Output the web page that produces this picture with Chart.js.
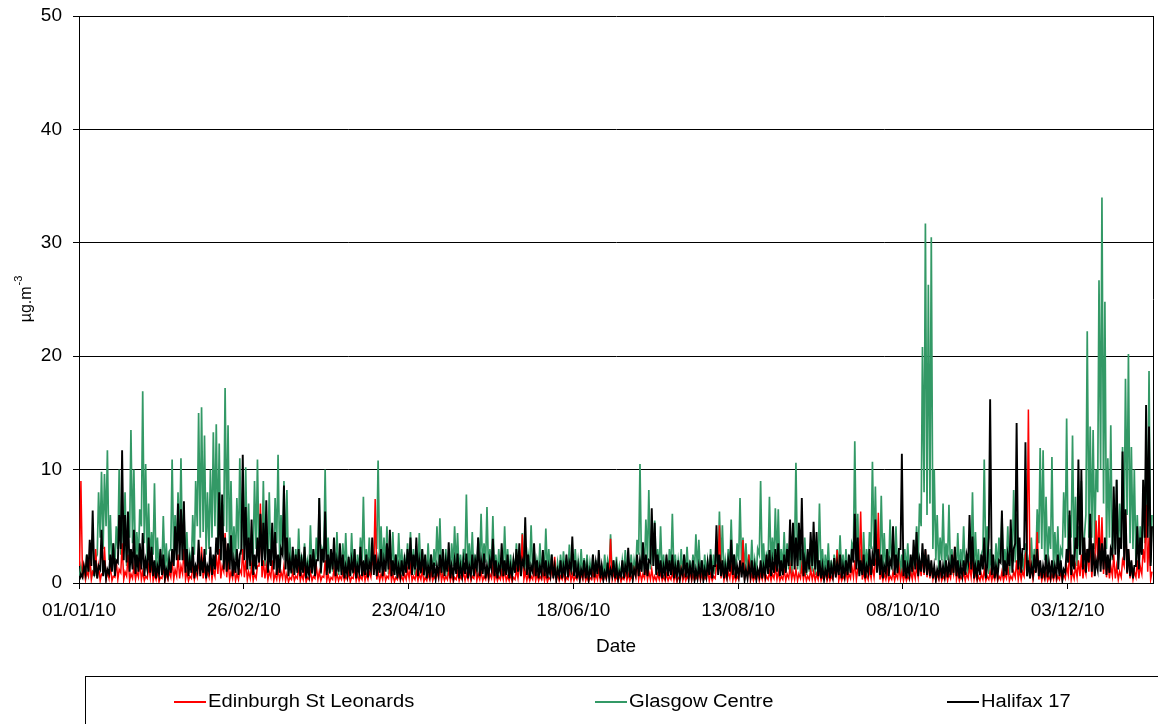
<!DOCTYPE html>
<html>
<head>
<meta charset="utf-8">
<title>Edinburgh / Glasgow / Halifax 2010</title>
<script src="https://cdn.jsdelivr.net/npm/chart.js@4.4.0/dist/chart.umd.min.js"></script>
<style>
    html, body { margin: 0; padding: 0; background: #fff; }
    #wrap { position: relative; width: 1158px; height: 724px; overflow: hidden; font-family: "Liberation Sans", Arial, sans-serif; }
    #legend { position: absolute; left: 85px; top: 676px; width: 1100px; height: 80px; border: 1px solid #000; box-sizing: border-box; }
    .swatch { position: absolute; top: 24px; width: 32px; height: 2px; }
    .label { position: absolute; top: 13px; font-size: 18px; line-height: 22px; color: #000; white-space: nowrap; transform: scaleX(1.12); transform-origin: left center; }
</style>
</head>
<body>
<div id="wrap">
    <canvas id="chart" width="1158" height="724"></canvas>
    <div id="legend"></div>
</div>
<script>
// 1. 資料：2010 年每日數值 (µg.m-3)，第 0 天 = 01/01/10
//    每天兩個讀值：當日低點 (Low) 與當日高點
const seriesNames = ['Edinburgh St Leonards', 'Glasgow Centre', 'Halifax 17'];

const tickDays = [0, 56, 112, 168, 224, 280, 336];
const tickLabels = ['01/01/10', '26/02/10', '23/04/10', '18/06/10', '13/08/10', '08/10/10', '03/12/10'];

const edinburgh = [
    9.0, 1.5, 1.0, 2.5, 1.0, 3.0, 1.5, 0.8, 3.2, 1.0,
    1.5, 0.6, 2.0, 1.2, 3.5, 1.0, 2.5, 0.8, 1.5, 1.0,
    2.0, 1.0, 0.6, 1.5, 2.0, 0.8, 1.2, 0.5, 1.5, 0.8,
    1.0, 2.0, 1.2, 2.5, 1.5, 3.0, 1.0, 0.6, 1.5, 1.0,
    2.0, 3.2, 1.5, 1.0, 2.0, 1.2, 2.5, 3.0, 1.5, 4.4,
    2.0, 1.0, 1.5, 0.8, 1.2, 3.0, 2.0, 1.0, 1.5, 0.8,
    1.5, 7.0, 2.0, 1.5, 1.0, 2.0, 0.8, 1.2, 1.0, 1.5,
    0.8, 0.5, 1.0, 0.6, 1.5, 0.8, 1.2, 0.5, 1.0, 0.6,
    1.5, 1.0, 0.6, 2.0, 0.8, 0.5, 1.2, 0.8, 0.6, 1.0,
    0.6, 1.0, 0.5, 1.5, 0.8, 0.6, 1.2, 0.8, 1.0, 2.0,
    7.4, 1.0, 0.8, 1.2, 0.6, 1.5, 0.8, 0.5, 1.0, 0.6,
    0.8, 1.2, 1.5, 0.6, 1.0, 0.8, 1.2, 0.5, 0.8, 1.0,
    0.6, 1.0, 1.5, 0.8, 0.6, 1.2, 0.8, 0.5, 1.0, 0.6,
    1.0, 0.8, 1.2, 0.6, 1.5, 0.8, 1.0, 0.6, 1.2, 0.8,
    1.5, 0.8, 0.6, 1.0, 1.2, 0.6, 0.8, 0.5, 1.2, 1.5,
    4.3, 1.0, 0.8, 0.6, 1.2, 0.8, 0.6, 1.0, 0.8, 0.5,
    1.2, 2.3, 0.8, 0.6, 1.0, 0.5, 1.2, 0.8, 0.6, 1.0,
    0.8, 1.2, 0.6, 0.5, 1.0, 0.8, 1.2, 0.6, 0.8, 1.0,
    3.9, 1.0, 0.6, 0.8, 0.5, 1.0, 0.8, 0.6, 1.2, 2.0,
    1.0, 0.8, 1.5, 1.0, 1.2, 0.6, 0.8, 1.0, 0.6, 0.8,
    0.6, 1.0, 0.8, 0.5, 1.2, 0.8, 0.6, 1.0, 0.8, 0.6,
    1.0, 0.8, 0.6, 1.2, 0.8, 0.6, 1.5, 5.1, 1.5, 0.8,
    1.0, 1.5, 0.8, 0.6, 1.2, 3.8, 1.0, 2.5, 0.8, 0.6,
    1.0, 0.8, 1.2, 0.6, 1.0, 0.8, 1.5, 1.0, 0.6, 1.2,
    0.8, 1.5, 1.0, 1.2, 0.8, 1.5, 1.0, 0.6, 1.2, 1.0,
    0.8, 1.2, 0.6, 1.0, 0.8, 0.6, 1.2, 2.9, 0.8, 0.6,
    1.0, 0.8, 1.5, 2.0, 1.2, 6.3, 1.0, 0.8, 1.2, 1.5,
    2.0, 6.2, 1.0, 0.8, 1.2, 0.6, 1.0, 0.8, 1.5, 1.0,
    0.8, 0.6, 1.0, 1.2, 1.5, 2.0, 2.5, 2.9, 2.0, 1.5,
    1.0, 0.8, 1.2, 0.6, 1.0, 0.8, 1.5, 3.2, 1.0, 0.6,
    1.0, 0.8, 1.5, 2.0, 1.0, 0.6, 0.8, 1.2, 0.6, 1.0,
    0.8, 1.2, 0.6, 1.0, 0.8, 1.5, 0.6, 1.0, 2.0, 1.2,
    1.0, 2.5, 15.3, 1.5, 1.0, 4.5, 1.2, 0.8, 1.0, 0.6,
    0.8, 1.2, 0.6, 1.0, 0.8, 1.5, 2.9, 1.0, 1.5, 2.0,
    2.5, 1.5, 3.0, 4.0, 2.0, 5.5, 6.0, 5.8, 3.0, 2.0,
    1.5, 2.5, 1.5, 1.0, 2.0, 6.1, 3.0, 1.5, 1.0, 2.0,
    1.5, 3.0, 6.9, 4.0, 1.0
];
const edinburghLow = [
    1.5, 0.4, 0.3, 0.6, 0.3, 0.8, 0.4, 0.2, 0.8, 0.3,
    0.4, 0.2, 0.5, 0.3, 0.9, 0.3, 0.6, 0.2, 0.4, 0.3,
    0.5, 0.3, 0.2, 0.4, 0.5, 0.2, 0.3, 0.1, 0.4, 0.2,
    0.3, 0.5, 0.3, 0.6, 0.4, 0.8, 0.3, 0.2, 0.4, 0.3,
    0.5, 0.8, 0.4, 0.3, 0.5, 0.3, 0.6, 0.8, 0.4, 1.0,
    0.5, 0.3, 0.4, 0.2, 0.3, 0.8, 0.5, 0.3, 0.4, 0.2,
    0.4, 1.5, 0.5, 0.4, 0.3, 0.5, 0.2, 0.3, 0.3, 0.4,
    0.2, 0.1, 0.3, 0.2, 0.4, 0.2, 0.3, 0.1, 0.3, 0.2,
    0.4, 0.3, 0.2, 0.5, 0.2, 0.1, 0.3, 0.2, 0.2, 0.3,
    0.2, 0.3, 0.1, 0.4, 0.2, 0.2, 0.3, 0.2, 0.3, 0.5,
    1.5, 0.3, 0.2, 0.3, 0.2, 0.4, 0.2, 0.1, 0.3, 0.2,
    0.2, 0.3, 0.4, 0.2, 0.3, 0.2, 0.3, 0.1, 0.2, 0.3,
    0.2, 0.3, 0.4, 0.2, 0.2, 0.3, 0.2, 0.1, 0.3, 0.2,
    0.3, 0.2, 0.3, 0.2, 0.4, 0.2, 0.3, 0.2, 0.3, 0.2,
    0.4, 0.2, 0.2, 0.3, 0.3, 0.2, 0.2, 0.1, 0.3, 0.4,
    1.0, 0.3, 0.2, 0.2, 0.3, 0.2, 0.2, 0.3, 0.2, 0.1,
    0.3, 0.6, 0.2, 0.2, 0.3, 0.1, 0.3, 0.2, 0.2, 0.3,
    0.2, 0.3, 0.2, 0.1, 0.3, 0.2, 0.3, 0.2, 0.2, 0.3,
    0.8, 0.3, 0.2, 0.2, 0.1, 0.3, 0.2, 0.2, 0.3, 0.5,
    0.3, 0.2, 0.4, 0.3, 0.3, 0.2, 0.2, 0.3, 0.2, 0.2,
    0.2, 0.3, 0.2, 0.1, 0.3, 0.2, 0.2, 0.3, 0.2, 0.2,
    0.3, 0.2, 0.2, 0.3, 0.2, 0.2, 0.4, 1.2, 0.4, 0.2,
    0.3, 0.4, 0.2, 0.2, 0.3, 1.0, 0.3, 0.6, 0.2, 0.2,
    0.3, 0.2, 0.3, 0.2, 0.3, 0.2, 0.4, 0.3, 0.2, 0.3,
    0.2, 0.4, 0.3, 0.3, 0.2, 0.4, 0.3, 0.2, 0.3, 0.3,
    0.2, 0.3, 0.2, 0.3, 0.2, 0.2, 0.3, 0.7, 0.2, 0.2,
    0.3, 0.2, 0.4, 0.5, 0.3, 1.5, 0.3, 0.2, 0.3, 0.4,
    0.5, 1.5, 0.3, 0.2, 0.3, 0.2, 0.3, 0.2, 0.4, 0.3,
    0.2, 0.2, 0.3, 0.3, 0.4, 0.5, 0.6, 0.7, 0.5, 0.4,
    0.3, 0.2, 0.3, 0.2, 0.3, 0.2, 0.4, 0.8, 0.3, 0.2,
    0.3, 0.2, 0.4, 0.5, 0.3, 0.2, 0.2, 0.3, 0.2, 0.3,
    0.2, 0.3, 0.2, 0.3, 0.2, 0.4, 0.2, 0.3, 0.5, 0.3,
    0.3, 0.6, 3.0, 0.4, 0.3, 1.2, 0.3, 0.2, 0.3, 0.2,
    0.2, 0.3, 0.2, 0.3, 0.2, 0.4, 0.7, 0.3, 0.4, 0.5,
    0.6, 0.4, 0.8, 1.0, 0.5, 1.5, 2.0, 1.5, 0.8, 0.5,
    0.4, 0.6, 0.4, 0.3, 0.5, 1.5, 0.8, 0.4, 0.3, 0.5,
    0.4, 0.8, 1.8, 1.0, 0.3
];

const glasgow = [
    1.5, 1.2, 2.5, 1.8, 1.0, 2.2, 8.0, 9.8, 9.6, 11.7,
    6.0, 3.5, 5.0, 10.0, 6.5, 8.0, 5.0, 13.5, 10.0, 4.5,
    6.5, 16.9, 10.5, 7.0, 4.5, 8.8, 4.0, 2.5, 5.9, 3.5,
    2.8, 10.9, 6.0, 8.0, 11.0, 6.5, 4.5, 2.5, 6.0, 9.0,
    15.0, 15.5, 13.0, 8.0, 10.0, 13.3, 14.0, 12.3, 7.0, 17.2,
    13.9, 9.0, 5.0, 7.5, 11.0, 8.0, 10.2, 7.0, 4.0, 9.0,
    10.9, 6.0, 9.0, 5.0, 8.0, 4.5, 7.5, 11.3, 6.0, 9.0,
    8.2, 4.0, 2.5, 3.0, 4.8, 2.5, 3.5, 2.0, 5.1, 3.0,
    4.0, 7.5, 3.0, 10.0, 4.0, 2.5, 3.0, 4.5, 2.5, 3.5,
    4.4, 2.0, 4.4, 3.0, 2.5, 4.0, 7.6, 3.0, 4.0, 2.5,
    5.0, 10.8, 5.0, 4.0, 5.0, 3.0, 4.5, 2.5, 4.4, 3.0,
    2.5, 3.5, 4.5, 3.0, 2.5, 4.4, 3.0, 2.0, 3.5, 2.5,
    3.0, 5.0, 5.7, 2.5, 3.0, 2.0, 3.5, 5.0, 4.4, 2.5,
    3.0, 7.8, 3.5, 4.5, 2.5, 4.0, 6.1, 3.5, 6.7, 3.0,
    5.9, 2.5, 3.0, 2.0, 5.0, 3.0, 2.5, 2.0, 3.5, 2.5,
    4.4, 3.0, 2.5, 5.1, 3.0, 2.0, 3.5, 2.5, 4.8, 3.0,
    2.5, 2.0, 1.8, 2.5, 2.8, 2.0, 3.4, 2.5, 3.0, 2.0,
    3.0, 2.2, 2.5, 1.8, 2.5, 2.0, 2.2, 1.5, 2.5, 2.0,
    4.3, 2.0, 2.3, 1.5, 2.0, 2.9, 1.8, 2.5, 2.0, 3.8,
    10.5, 3.5, 5.6, 8.2, 4.0, 5.5, 3.0, 5.0, 2.5, 2.0,
    3.0, 6.1, 2.5, 2.0, 3.0, 2.5, 3.2, 2.0, 2.5, 4.3,
    3.8, 2.0, 2.5, 2.0, 3.0, 2.5, 3.0, 6.3, 5.1, 2.0,
    3.0, 5.6, 2.5, 3.5, 7.5, 4.0, 3.5, 2.5, 3.8, 2.0,
    3.0, 9.0, 3.5, 2.5, 7.6, 4.0, 6.6, 6.5, 3.0, 4.5,
    3.5, 4.2, 3.0, 10.6, 4.5, 3.0, 4.0, 2.5, 3.5, 3.8,
    2.5, 7.0, 3.0, 2.5, 3.5, 2.0, 2.5, 3.0, 4.2, 2.5,
    3.0, 2.0, 3.5, 12.5, 6.1, 3.0, 4.5, 3.0, 4.5, 10.7,
    8.5, 4.0, 7.7, 4.4, 3.0, 5.6, 4.0, 5.0, 3.0, 2.5,
    3.0, 3.5, 2.0, 2.5, 5.0, 7.0, 20.8, 31.7, 26.3, 30.5,
    10.0, 6.0, 4.0, 7.0, 3.5, 6.9, 3.0, 2.5, 4.4, 3.0,
    5.0, 2.5, 3.0, 8.0, 4.5, 3.0, 2.5, 10.9, 5.0, 3.0,
    2.0, 3.5, 4.0, 6.1, 3.0, 5.0, 2.5, 8.2, 6.1, 3.0,
    2.5, 3.5, 2.0, 4.0, 3.0, 6.5, 11.9, 11.7, 7.6, 5.0,
    11.1, 4.5, 5.0, 3.0, 8.0, 14.5, 6.0, 13.0, 7.6, 5.0,
    9.0, 4.0, 22.2, 13.8, 13.5, 10.0, 26.7, 34.0, 24.8, 11.0,
    13.9, 6.5, 9.1, 7.0, 12.0, 18.0, 20.2, 12.0, 10.0, 6.0,
    5.0, 8.0, 12.0, 18.7, 6.0
];
const glasgowLow = [
    0.6, 0.8, 0.5, 0.9, 0.6, 0.7, 2.5, 4.0, 3.0, 5.0,
    2.0, 1.2, 1.5, 3.0, 2.5, 3.0, 1.5, 4.0, 3.5, 1.5,
    2.0, 5.0, 3.5, 2.0, 1.5, 2.5, 1.2, 0.8, 1.5, 1.0,
    0.8, 3.0, 2.0, 2.5, 3.5, 2.0, 1.5, 0.8, 1.5, 2.5,
    5.0, 4.0, 4.5, 2.5, 3.0, 4.0, 5.0, 3.5, 2.0, 5.0,
    4.5, 2.5, 1.5, 2.0, 3.0, 2.5, 3.0, 2.0, 1.2, 2.5,
    3.0, 2.0, 2.5, 1.5, 2.0, 1.5, 2.0, 3.5, 2.0, 2.5,
    2.0, 1.2, 0.8, 1.0, 1.2, 0.8, 1.0, 0.6, 1.2, 0.8,
    1.0, 2.0, 0.8, 2.5, 1.2, 0.8, 1.0, 1.2, 0.7, 1.0,
    1.2, 0.6, 1.2, 0.8, 0.7, 1.0, 2.0, 0.8, 1.2, 0.7,
    1.5, 3.0, 1.5, 1.2, 1.5, 0.8, 1.2, 0.7, 1.2, 0.8,
    0.7, 1.0, 1.2, 0.8, 0.7, 1.2, 0.8, 0.6, 1.0, 0.7,
    0.8, 1.5, 1.5, 0.7, 0.8, 0.6, 1.0, 1.5, 1.2, 0.7,
    0.8, 2.0, 1.0, 1.2, 0.7, 1.0, 1.8, 1.0, 1.8, 0.8,
    1.5, 0.7, 0.8, 0.6, 1.2, 0.8, 0.7, 0.6, 1.0, 0.7,
    1.2, 0.8, 0.7, 1.5, 0.8, 0.6, 1.0, 0.7, 1.2, 0.8,
    0.7, 0.6, 0.5, 0.7, 0.8, 0.6, 1.0, 0.7, 0.8, 0.6,
    0.8, 0.6, 0.7, 0.5, 0.7, 0.6, 0.6, 0.5, 0.7, 0.6,
    1.2, 0.6, 0.7, 0.5, 0.6, 0.8, 0.5, 0.7, 0.6, 1.0,
    2.5, 1.0, 1.5, 2.0, 1.2, 1.5, 0.8, 1.2, 0.7, 0.6,
    0.8, 1.5, 0.7, 0.6, 0.8, 0.7, 0.9, 0.6, 0.7, 1.2,
    1.0, 0.6, 0.7, 0.6, 0.8, 0.7, 0.8, 1.5, 1.5, 0.6,
    0.8, 1.5, 0.7, 1.0, 2.0, 1.2, 1.0, 0.7, 1.0, 0.6,
    0.8, 2.5, 1.0, 0.7, 2.0, 1.2, 2.0, 1.8, 0.8, 1.2,
    1.0, 1.2, 0.8, 3.0, 1.2, 0.8, 1.2, 0.7, 1.0, 1.0,
    0.7, 2.0, 0.8, 0.7, 1.0, 0.6, 0.7, 0.8, 1.2, 0.7,
    0.8, 0.6, 1.0, 3.0, 2.0, 0.8, 1.2, 0.8, 1.2, 3.0,
    2.5, 1.2, 2.0, 1.2, 0.8, 1.5, 1.2, 1.5, 0.8, 0.7,
    0.8, 1.0, 0.6, 0.7, 1.5, 2.0, 5.0, 8.0, 6.0, 7.0,
    3.0, 2.0, 1.2, 2.0, 1.0, 2.0, 0.8, 0.7, 1.2, 0.8,
    1.5, 0.7, 0.8, 2.0, 1.2, 0.8, 0.7, 3.0, 1.5, 0.8,
    0.6, 1.0, 1.2, 1.8, 0.8, 1.5, 0.7, 2.5, 1.8, 0.8,
    0.7, 1.0, 0.6, 1.2, 0.8, 2.0, 3.5, 3.0, 2.0, 1.5,
    3.0, 1.2, 1.5, 0.8, 2.5, 4.0, 1.8, 4.0, 2.0, 1.5,
    2.5, 1.2, 6.0, 4.0, 4.0, 3.0, 8.0, 10.0, 7.0, 3.0,
    4.0, 2.0, 3.0, 2.0, 3.5, 5.0, 6.0, 3.5, 3.0, 1.8,
    1.5, 2.5, 3.5, 5.0, 1.8
];

const halifax = [
    0.8, 1.5, 2.5, 3.8, 6.4, 2.0, 1.5, 4.7, 2.0, 1.2,
    2.5, 3.5, 2.0, 6.0, 11.7, 6.0, 6.3, 3.0, 4.7, 2.5,
    3.5, 4.4, 2.0, 4.0, 3.2, 2.0, 1.5, 3.0, 2.5, 1.2,
    2.0, 3.0, 5.0, 7.0, 6.5, 7.2, 3.0, 2.0, 3.2, 1.5,
    3.8, 2.0, 3.0, 1.5, 3.2, 2.5, 4.0, 8.0, 7.8, 4.0,
    3.5, 4.2, 2.0, 3.0, 2.5, 11.3, 6.7, 4.0, 5.6, 2.5,
    4.0, 6.1, 5.3, 7.3, 3.0, 5.3, 4.5, 2.5, 3.0, 8.6,
    4.0, 2.0, 3.2, 2.5, 3.0, 2.0, 3.2, 1.5, 2.5, 3.0,
    2.0, 7.5, 3.0, 6.3, 2.5, 3.0, 4.0, 2.0, 3.5, 2.5,
    1.5, 2.3, 2.0, 3.0, 1.5, 3.2, 2.0, 2.5, 1.8, 4.0,
    2.5, 2.0, 3.0, 2.0, 3.5, 4.7, 2.0, 2.5, 1.5, 2.0,
    2.0, 3.0, 4.0, 2.5, 4.0, 2.0, 3.0, 2.5, 1.5, 2.5,
    1.8, 1.5, 2.5, 3.0, 2.0, 3.6, 1.5, 2.0, 2.6, 1.5,
    2.0, 2.6, 1.5, 2.5, 2.0, 4.0, 2.0, 2.6, 1.5, 2.0,
    3.9, 2.0, 1.5, 3.5, 2.0, 2.5, 1.5, 2.0, 3.0, 3.5,
    2.0, 5.8, 2.5, 1.5, 3.5, 2.0, 1.5, 2.9, 2.0, 1.5,
    2.5, 1.5, 1.2, 2.0, 1.5, 2.5, 1.8, 4.1, 2.0, 1.5,
    1.2, 2.0, 1.5, 1.2, 2.5, 1.8, 2.9, 1.5, 1.0, 1.8,
    1.2, 2.0, 1.5, 1.0, 2.0, 1.5, 3.1, 1.8, 1.2, 2.5,
    2.0, 3.6, 2.5, 2.0, 6.6, 5.3, 2.5, 2.0, 1.5, 2.5,
    2.0, 2.5, 1.5, 2.0, 1.2, 2.5, 1.8, 1.5, 2.0, 1.2,
    1.5, 2.0, 1.2, 1.8, 2.5, 1.5, 5.1, 2.5, 2.0, 1.5,
    2.0, 3.8, 2.5, 1.5, 2.0, 1.8, 1.2, 1.5, 2.0, 1.5,
    1.2, 2.0, 1.5, 2.5, 2.9, 2.0, 3.0, 3.5, 2.0, 2.5,
    3.0, 5.6, 5.3, 4.0, 5.3, 7.5, 2.0, 3.0, 4.5, 5.4,
    4.5, 2.0, 1.5, 1.2, 2.0, 1.5, 2.2, 1.8, 2.5, 1.5,
    2.0, 2.5, 3.0, 6.1, 4.0, 2.0, 2.5, 1.5, 3.0, 2.5,
    5.6, 3.0, 2.5, 1.5, 3.0, 2.0, 5.0, 2.5, 3.0, 11.4,
    2.0, 1.5, 2.5, 3.8, 4.5, 2.0, 3.5, 3.0, 2.5, 2.0,
    1.5, 1.2, 2.0, 1.5, 2.0, 1.8, 2.5, 3.2, 2.0, 1.5,
    2.0, 2.5, 6.0, 4.1, 1.5, 2.0, 2.5, 4.0, 1.5, 16.2,
    2.5, 1.5, 2.0, 6.4, 2.0, 2.5, 5.6, 3.0, 14.1, 4.0,
    3.0, 12.4, 2.0, 1.5, 2.5, 3.0, 2.0, 1.5, 2.5, 1.8,
    2.0, 1.5, 2.5, 2.0, 1.2, 3.0, 6.4, 2.5, 4.0, 10.9,
    10.0, 4.0, 3.0, 6.1, 3.5, 2.0, 4.0, 3.5, 4.0, 2.5,
    3.0, 8.5, 9.1, 4.0, 11.6, 6.5, 3.0, 2.0, 1.5, 5.0,
    4.0, 9.1, 15.7, 13.8, 5.0
];
const halifaxLow = [
    0.3, 0.5, 0.8, 1.0, 1.5, 0.6, 0.4, 1.2, 0.6, 0.4,
    0.8, 1.0, 0.6, 1.8, 3.0, 2.0, 1.8, 1.0, 1.2, 0.8,
    1.0, 1.2, 0.6, 1.2, 0.9, 0.6, 0.4, 0.8, 0.7, 0.4,
    0.6, 0.9, 1.5, 2.0, 2.0, 2.0, 0.9, 0.6, 0.9, 0.4,
    1.0, 0.6, 0.9, 0.4, 1.0, 0.7, 1.2, 2.5, 2.0, 1.2,
    1.0, 1.2, 0.6, 0.9, 0.7, 3.0, 2.0, 1.2, 1.5, 0.7,
    1.2, 1.8, 1.5, 2.0, 0.9, 1.5, 1.2, 0.7, 0.9, 2.5,
    1.2, 0.6, 0.9, 0.7, 0.9, 0.6, 0.9, 0.4, 0.7, 0.9,
    0.6, 2.0, 0.9, 1.8, 0.7, 0.9, 1.2, 0.6, 1.0, 0.7,
    0.4, 0.7, 0.6, 0.9, 0.4, 0.9, 0.6, 0.7, 0.5, 1.2,
    0.7, 0.6, 0.9, 0.6, 1.0, 1.2, 0.6, 0.7, 0.4, 0.6,
    0.6, 0.9, 1.2, 0.7, 1.2, 0.6, 0.9, 0.7, 0.4, 0.7,
    0.5, 0.4, 0.7, 0.9, 0.6, 1.0, 0.4, 0.6, 0.8, 0.4,
    0.6, 0.8, 0.4, 0.7, 0.6, 1.2, 0.6, 0.8, 0.4, 0.6,
    1.2, 0.6, 0.4, 1.0, 0.6, 0.7, 0.4, 0.6, 0.9, 1.0,
    0.6, 1.5, 0.7, 0.4, 1.0, 0.6, 0.4, 0.8, 0.6, 0.4,
    0.7, 0.4, 0.3, 0.6, 0.4, 0.7, 0.5, 1.2, 0.6, 0.4,
    0.3, 0.6, 0.4, 0.3, 0.7, 0.5, 0.8, 0.4, 0.3, 0.5,
    0.3, 0.6, 0.4, 0.3, 0.6, 0.4, 0.9, 0.5, 0.3, 0.7,
    0.6, 1.0, 0.7, 0.6, 1.8, 1.5, 0.7, 0.6, 0.4, 0.7,
    0.6, 0.7, 0.4, 0.6, 0.3, 0.7, 0.5, 0.4, 0.6, 0.3,
    0.4, 0.6, 0.3, 0.5, 0.7, 0.4, 1.5, 0.7, 0.6, 0.4,
    0.6, 1.0, 0.7, 0.4, 0.6, 0.5, 0.3, 0.4, 0.6, 0.4,
    0.3, 0.6, 0.4, 0.7, 0.8, 0.6, 0.9, 1.0, 0.6, 0.7,
    0.9, 1.5, 1.5, 1.2, 1.5, 2.0, 0.6, 0.9, 1.2, 1.5,
    1.2, 0.6, 0.4, 0.3, 0.6, 0.4, 0.6, 0.5, 0.7, 0.4,
    0.6, 0.7, 0.9, 1.8, 1.2, 0.6, 0.7, 0.4, 0.9, 0.7,
    1.5, 0.9, 0.7, 0.4, 0.9, 0.6, 1.5, 0.7, 0.9, 3.0,
    0.6, 0.4, 0.7, 1.0, 1.2, 0.6, 1.0, 0.9, 0.7, 0.6,
    0.4, 0.3, 0.6, 0.4, 0.6, 0.5, 0.7, 0.9, 0.6, 0.4,
    0.6, 0.7, 1.8, 1.2, 0.4, 0.6, 0.7, 1.2, 0.4, 4.0,
    0.7, 0.4, 0.6, 1.8, 0.6, 0.7, 1.5, 0.9, 3.5, 1.2,
    0.9, 3.0, 0.6, 0.4, 0.7, 0.9, 0.6, 0.4, 0.7, 0.5,
    0.6, 0.4, 0.7, 0.6, 0.3, 0.9, 1.8, 0.7, 1.2, 3.0,
    2.5, 1.2, 0.9, 1.8, 1.0, 0.6, 1.2, 1.0, 1.2, 0.7,
    0.9, 2.5, 2.5, 1.2, 3.0, 2.0, 0.9, 0.6, 0.4, 1.5,
    1.2, 2.5, 4.0, 4.0, 1.5
];

// 2. 樣式 (與資料分開)
const seriesColors = ['#ff0000', '#339966', '#000000'];
const seriesWidths = [1.5, 1.7, 1.9];
const drawOrder = [1, 2, 0];          // 數字小的畫在上層
const legendLeft = [173, 594, 946];   // 圖例位置 (px)
const FONT = '"Liberation Sans", Arial, sans-serif';

// 每日兩點：低點放在前段，高點放在後段
function toPoints(high, low) {
    const pts = [];
    high.forEach((v, i) => {
        pts.push({ x: i + 0.2, y: low[i] });
        pts.push({ x: i + 0.65, y: v });
    });
    return pts;
}

// y 軸標題：µg.m 加上標 -3
const yTitlePlugin = {
    id: 'yTitle',
    afterDraw(chart) {
        const ctx = chart.ctx;
        const area = chart.chartArea;
        const cy = (area.top + area.bottom) / 2;
        ctx.save();
        ctx.translate(31, cy);
        ctx.rotate(-Math.PI / 2);
        ctx.fillStyle = '#000';
        ctx.textBaseline = 'alphabetic';
        ctx.font = '16px ' + FONT;
        const w1 = ctx.measureText('µg.m').width;
        ctx.font = '11px ' + FONT;
        const w2 = ctx.measureText('-3').width;
        const x0 = -(w1 + w2) / 2;
        ctx.font = '16px ' + FONT;
        ctx.fillText('µg.m', x0, 0);
        ctx.font = '11px ' + FONT;
        ctx.fillText('-3', x0 + w1 + 1, -9);
        ctx.restore();
    }
};

// 圖表區右側邊框
const framePlugin = {
    id: 'frame',
    afterDraw(chart) {
        const { ctx, chartArea } = chart;
        const x = Math.round(chartArea.right) + 0.5;
        ctx.save();
        ctx.strokeStyle = '#000';
        ctx.lineWidth = 1;
        ctx.beginPath();
        ctx.moveTo(x, chartArea.top);
        ctx.lineTo(x, chartArea.bottom);
        ctx.stroke();
        ctx.restore();
    }
};

function buildLegend() {
    const box = document.getElementById('legend');
    seriesNames.forEach((name, i) => {
        const sw = document.createElement('span');
        sw.className = 'swatch';
        sw.style.left = (legendLeft[i] - 85) + 'px';
        sw.style.background = seriesColors[i];
        const lb = document.createElement('span');
        lb.className = 'label';
        lb.style.left = (legendLeft[i] - 85 + 34) + 'px';
        lb.textContent = name;
        box.appendChild(sw);
        box.appendChild(lb);
    });
}

function renderChart() {
    const ctx = document.getElementById('chart').getContext('2d');
    const highs = [edinburgh, glasgow, halifax];
    const lows = [edinburghLow, glasgowLow, halifaxLow];

    new Chart(ctx, {
        type: 'line',
        data: {
            datasets: highs.map((values, i) => ({
                label: seriesNames[i],
                data: toPoints(values, lows[i]),
                borderColor: seriesColors[i],
                borderWidth: seriesWidths[i],
                pointRadius: 0,
                tension: 0,
                fill: false,
                order: drawOrder[i]
            }))
        },
        options: {
            responsive: false,
            animation: false,
            devicePixelRatio: 1,
            layout: { padding: { left: 0, top: 16, right: 5, bottom: 0 } },
            plugins: { legend: { display: false }, tooltip: { enabled: false } },
            scales: {
                x: {
                    type: 'linear',
                    min: 0,
                    max: 365,
                    afterFit: s => { s.height = 141; },
                    afterBuildTicks: s => { s.ticks = tickDays.map(v => ({ value: v })); },
                    ticks: {
                        callback: v => tickLabels[tickDays.indexOf(v)] || '',
                        color: '#000',
                        font: { family: FONT, size: 19 },
                        padding: 10,
                        maxRotation: 0,
                        autoSkip: false
                    },
                    grid: { drawOnChartArea: false, drawTicks: true, tickLength: 6, color: '#000' },
                    border: { color: '#000', width: 1 },
                    title: {
                        display: true,
                        text: 'Date',
                        color: '#000',
                        font: { family: FONT, size: 19 },
                        padding: { top: 0, bottom: 66 }
                    }
                },
                y: {
                    min: 0,
                    max: 50,
                    // 固定寬度，並去掉頂端標籤的額外留白
                    afterFit: s => { s.width = 79; s.paddingTop = 0; s.paddingBottom = 0; },
                    ticks: {
                        stepSize: 10,
                        color: '#000',
                        font: { family: FONT, size: 19 },
                        padding: 11
                    },
                    grid: { color: '#000', lineWidth: 1, tickLength: 6 },
                    border: { color: '#000', width: 1 }
                }
            }
        },
        plugins: [yTitlePlugin, framePlugin]
    });
}

document.addEventListener('DOMContentLoaded', () => {
    buildLegend();
    renderChart();
});
</script>
</body>
</html>
